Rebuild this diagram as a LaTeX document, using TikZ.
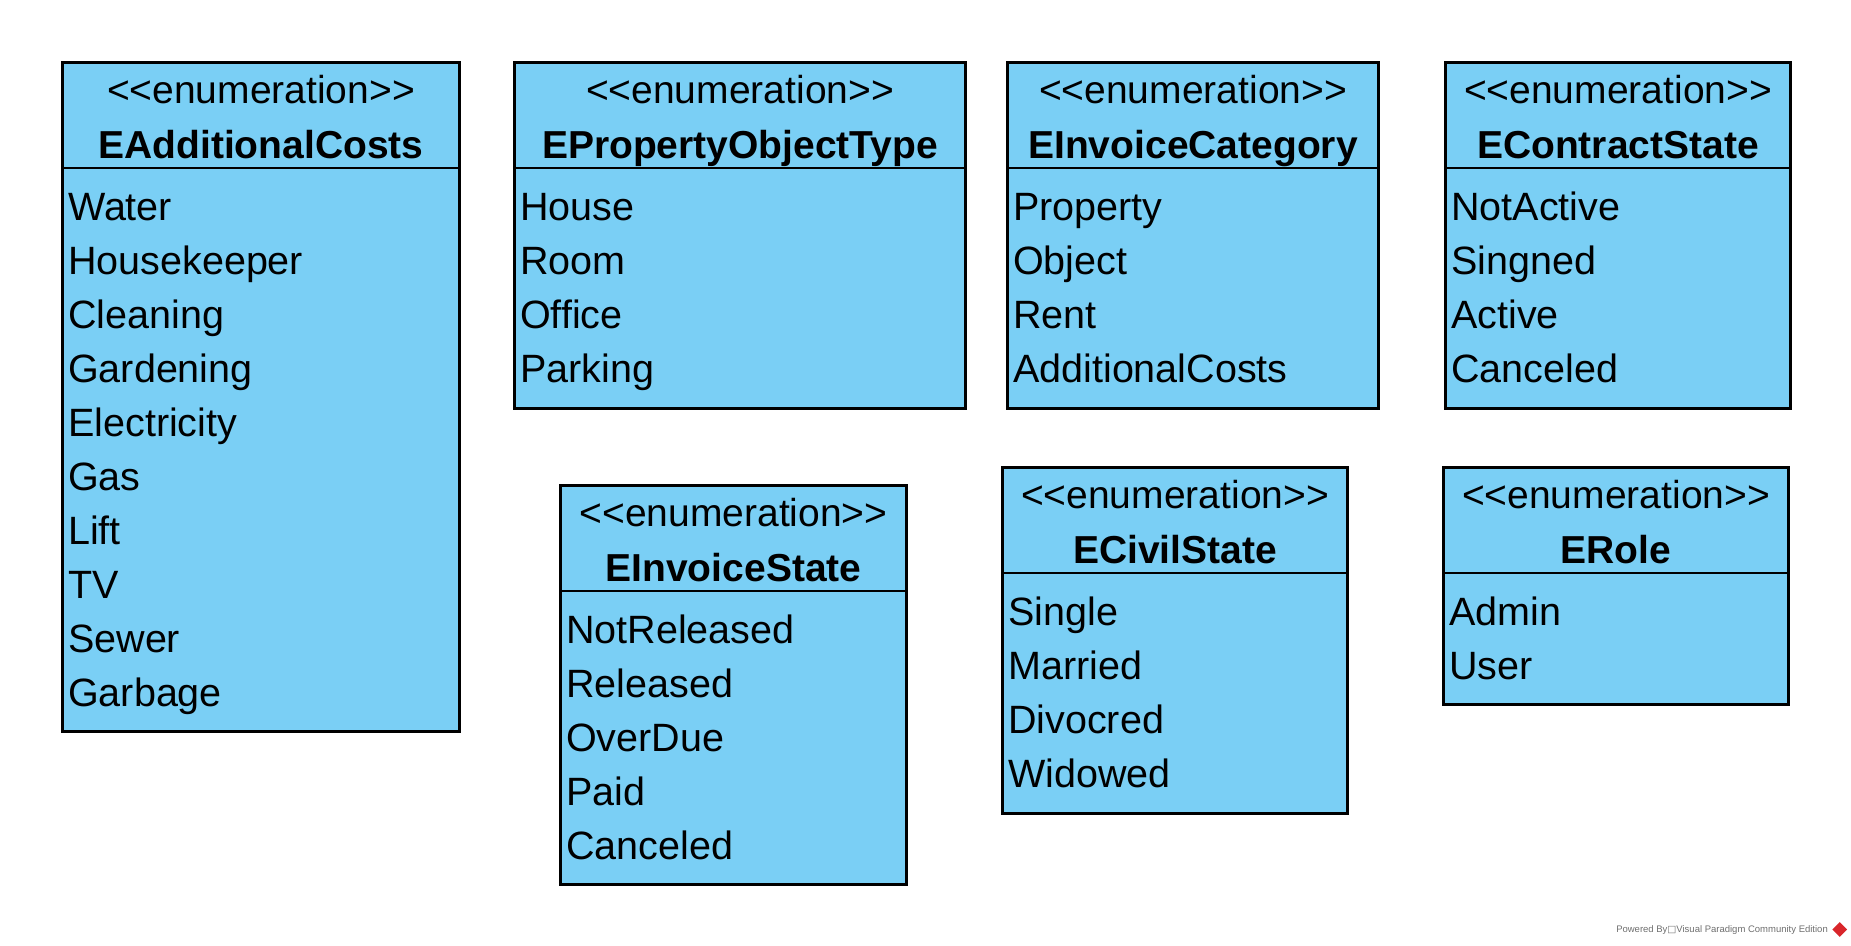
\documentclass[tikz,border=0pt]{standalone}
\usepackage{fontspec}
\setmainfont{Liberation Sans}
\newfontfamily\dejavu{DejaVu Sans}
\usepackage{xcolor}
\usepackage{tikz}
\usetikzlibrary{shapes.geometric,calc,positioning}
\definecolor{enumfill}{HTML}{7ACFF5}
\definecolor{enumline}{HTML}{000000}
\definecolor{vpgray}{HTML}{6E6E6E}
\definecolor{vpred}{HTML}{D9262B}
\newcommand{\enumtag}{\textless\kern0pt\textless enumeration\textgreater\kern0pt\textgreater}

\begin{document}
\begin{tikzpicture}[x=1pt,y=-1pt,
  enumbox/.style={rectangle,draw=enumline,fill=enumfill,line width=3pt,
    anchor=north west,inner sep=0pt},
  stereo/.style={anchor=base,inner sep=0pt,font=\fontsize{39}{47}\selectfont},
  ename/.style={anchor=base,inner sep=0pt,font=\fontsize{39}{47}\selectfont\bfseries},
  lit/.style={anchor=base west,inner sep=0pt,font=\fontsize{39.5}{47}\selectfont},
  divline/.style={enumline,line width=2.5pt},
  wmark/.style={anchor=base east,inner sep=0pt,text=vpgray,font=\fontsize{9.5}{11}\selectfont},
  vplogo/.style={diamond,fill=vpred,minimum size=15pt,inner sep=0pt}]
  \path[use as bounding box] (0,0) rectangle (1851,945);

  % top row
  \node[enumbox,minimum width=397pt,minimum height=669pt] (costs) at (61,61) {};
  \node[stereo] (costs-st) at ($(costs.north)+(0,42)$) {\enumtag};
  \node[ename] (costs-nm) at ($(costs.north)+(0,97)$) {EAdditionalCosts};
  \draw[divline] ([yshift=-107pt]costs.north west) -- ([yshift=-107pt]costs.north east);
  \foreach \t [count=\i] in {Water,Housekeeper,Cleaning,Gardening,Electricity,Gas,Lift,TV,Sewer,Garbage}
    \node[lit] (costs-\i) at ($(costs.north west)+(7,105+54*\i)$) {\t};

  \node[enumbox,minimum width=451pt,minimum height=346pt] (objtype) at (513,61) {};
  \node[stereo] (objtype-st) at ($(objtype.north)+(0,42)$) {\enumtag};
  \node[ename] (objtype-nm) at ($(objtype.north)+(0,97)$) {EPropertyObjectType};
  \draw[divline] ([yshift=-107pt]objtype.north west) -- ([yshift=-107pt]objtype.north east);
  \foreach \t [count=\i] in {House,Room,Office,Parking}
    \node[lit] (objtype-\i) at ($(objtype.north west)+(7,105+54*\i)$) {\t};

  \node[enumbox,minimum width=371pt,minimum height=346pt] (invcat) at (1006,61) {};
  \node[stereo] (invcat-st) at ($(invcat.north)+(0,42)$) {\enumtag};
  \node[ename] (invcat-nm) at ($(invcat.north)+(0,97)$) {EInvoiceCategory};
  \draw[divline] ([yshift=-107pt]invcat.north west) -- ([yshift=-107pt]invcat.north east);
  \foreach \t [count=\i] in {Property,Object,Rent,AdditionalCosts}
    \node[lit] (invcat-\i) at ($(invcat.north west)+(7,105+54*\i)$) {\t};

  \node[enumbox,minimum width=345pt,minimum height=346pt] (contract) at (1444,61) {};
  \node[stereo] (contract-st) at ($(contract.north)+(0,42)$) {\enumtag};
  \node[ename] (contract-nm) at ($(contract.north)+(0,97)$) {EContractState};
  \draw[divline] ([yshift=-107pt]contract.north west) -- ([yshift=-107pt]contract.north east);
  \foreach \t [count=\i] in {NotActive,Singned,Active,Canceled}
    \node[lit] (contract-\i) at ($(contract.north west)+(7,105+54*\i)$) {\t};

  % bottom row
  \node[enumbox,minimum width=346pt,minimum height=399pt] (invstate) at (559,484) {};
  \node[stereo] (invstate-st) at ($(invstate.north)+(0,42)$) {\enumtag};
  \node[ename] (invstate-nm) at ($(invstate.north)+(0,97)$) {EInvoiceState};
  \draw[divline] ([yshift=-107pt]invstate.north west) -- ([yshift=-107pt]invstate.north east);
  \foreach \t [count=\i] in {NotReleased,Released,OverDue,Paid,Canceled}
    \node[lit] (invstate-\i) at ($(invstate.north west)+(7,105+54*\i)$) {\t};

  \node[enumbox,minimum width=345pt,minimum height=346pt] (civil) at (1001,466) {};
  \node[stereo] (civil-st) at ($(civil.north)+(0,42)$) {\enumtag};
  \node[ename] (civil-nm) at ($(civil.north)+(0,97)$) {ECivilState};
  \draw[divline] ([yshift=-107pt]civil.north west) -- ([yshift=-107pt]civil.north east);
  \foreach \t [count=\i] in {Single,Married,Divocred,Widowed}
    \node[lit] (civil-\i) at ($(civil.north west)+(7,105+54*\i)$) {\t};

  \node[enumbox,minimum width=345pt,minimum height=237pt] (role) at (1442,466) {};
  \node[stereo] (role-st) at ($(role.north)+(0,42)$) {\enumtag};
  \node[ename] (role-nm) at ($(role.north)+(0,97)$) {ERole};
  \draw[divline] ([yshift=-107pt]role.north west) -- ([yshift=-107pt]role.north east);
  \foreach \t [count=\i] in {Admin,User}
    \node[lit] (role-\i) at ($(role.north west)+(7,105+54*\i)$) {\t};

  % watermark
  \node[wmark] (vp) at (1828,932) {Powered By{\dejavu □}Visual Paradigm Community Edition};
  \node[vplogo,right=4pt of vp.east] (vplogo) {};
\end{tikzpicture}
\end{document}
